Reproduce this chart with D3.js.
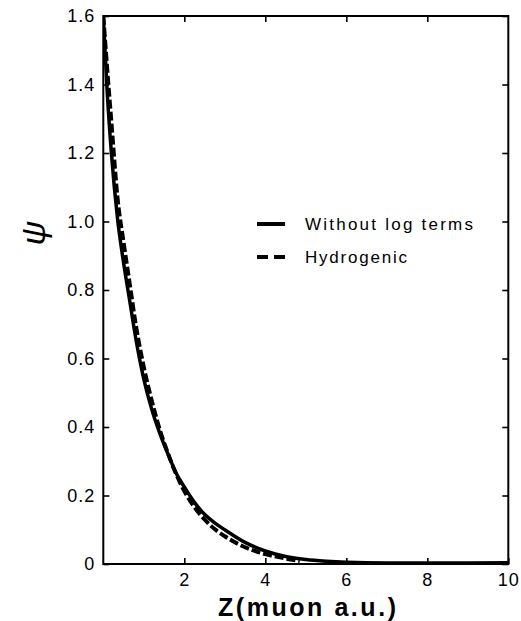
<!DOCTYPE html>
<html>
<head>
<meta charset="utf-8">
<script src="https://cdn.jsdelivr.net/npm/d3@7"></script>
<style>
  html, body { margin: 0; padding: 0; background: #fff; }
  svg { display: block; }
  text { font-family: "Liberation Sans", Arial, sans-serif; fill: #000; }
</style>
</head>
<body>
<svg id="chart" width="521" height="621"></svg>
<script>
// ---- data ----
const zSolid = [0, 0.1, 0.2, 0.35, 0.5, 0.65, 0.8, 1.0, 1.2, 1.4, 1.6, 1.8, 2.0, 2.25, 2.5, 2.75, 3.0, 3.5, 4.0, 4.5, 5.0, 5.5, 6, 7, 8, 9, 10];
const psiSolid = [1.60, 1.37, 1.20, 1.01, 0.88, 0.77, 0.66, 0.54, 0.45, 0.38, 0.32, 0.265, 0.225, 0.18, 0.145, 0.12, 0.10, 0.063, 0.038, 0.022, 0.013, 0.008, 0.005, 0.003, 0.003, 0.003, 0.004];
const zHydro = [0, 0.1, 0.2, 0.35, 0.5, 0.65, 0.8, 1.0, 1.2, 1.4, 1.6, 1.8, 2.0, 2.25, 2.5, 2.75, 3.0, 3.5, 4.0, 4.5, 4.85];
const psiHydro = [1.60, 1.44, 1.29, 1.07, 0.94, 0.82, 0.70, 0.575, 0.475, 0.39, 0.322, 0.262, 0.213, 0.166, 0.13, 0.102, 0.081, 0.049, 0.029, 0.016, 0.009];
const xTicks = [2, 4, 6, 8, 10];
const yTicks = [0, 0.2, 0.4, 0.6, 0.8, 1.0, 1.2, 1.4, 1.6];
const legendLabels = ["Without log terms", "Hydrogenic"];
const xTitle = "Z(muon a.u.)";
const yTitle = "ψ";

// ---- layout ----
const L = 103.3, R = 508.3, T = 16, B = 564;
const svg = d3.select("#chart");
const x = d3.scaleLinear().domain([0, 10]).range([L, R]);
const y = d3.scaleLinear().domain([0, 1.6]).range([B, T]);

svg.append("defs").append("clipPath").attr("id", "clip")
  .append("rect").attr("x", L).attr("y", T - 1).attr("width", R - L).attr("height", B - T + 1);

// axes (inward ticks)
const fmtY = d => d === 0 ? "0" : d.toFixed(1);
const gl = svg.append("g").attr("transform", `translate(${L},0)`)
  .call(d3.axisLeft(y).tickValues(yTicks).tickSize(-6).tickPadding(8).tickFormat(fmtY));
const gr = svg.append("g").attr("transform", `translate(${R},0)`)
  .call(d3.axisRight(y).tickValues(yTicks).tickSize(-6).tickFormat(""));
const gb = svg.append("g").attr("transform", `translate(0,${B})`)
  .call(d3.axisBottom(x).tickValues(xTicks).tickSize(-6).tickPadding(9).tickFormat(d3.format("d")));
const gt = svg.append("g").attr("transform", `translate(0,${T})`)
  .call(d3.axisTop(x).tickValues(xTicks.filter(d => d < 10)).tickSize(-6).tickFormat(""));

[gl, gr, gb, gt].forEach(g => {
  g.select(".domain").remove();
  g.selectAll(".tick line").attr("stroke", "#000").attr("stroke-width", 1.6);
  g.selectAll(".tick text").attr("font-size", 18).attr("fill", "#000")
    .attr("font-family", "'Liberation Sans', Arial, sans-serif").style("letter-spacing", "1px");
});

// frame
svg.append("rect").attr("x", L).attr("y", T).attr("width", R - L).attr("height", B - T)
  .attr("fill", "none").attr("stroke", "#000").attr("stroke-width", 2);

// curves
const line = d3.line().x(d => x(d[0])).y(d => y(d[1])).curve(d3.curveMonotoneX);
const solidData = zSolid.map((z, i) => [z, psiSolid[i]]);
const hydroData = zHydro.map((z, i) => [z, psiHydro[i]]);

const plot = svg.append("g").attr("clip-path", "url(#clip)");
plot.append("path").datum(hydroData).attr("d", line)
  .attr("fill", "none").attr("stroke", "#000").attr("stroke-width", 4)
  .attr("stroke-dasharray", "9,3");
plot.append("path").datum(solidData).attr("d", line)
  .attr("fill", "none").attr("stroke", "#000").attr("stroke-width", 3.5);

// legend
const lg = svg.append("g");
lg.append("line").attr("x1", 257).attr("x2", 285).attr("y1", 224).attr("y2", 224)
  .attr("stroke", "#000").attr("stroke-width", 4);
lg.append("line").attr("x1", 257).attr("x2", 285).attr("y1", 257).attr("y2", 257)
  .attr("stroke", "#000").attr("stroke-width", 4).attr("stroke-dasharray", "11,6");
lg.append("text").attr("x", 305).attr("y", 230).attr("font-size", 17)
  .attr("textLength", 168).attr("lengthAdjust", "spacing").text(legendLabels[0]);
lg.append("text").attr("x", 305).attr("y", 263).attr("font-size", 17)
  .attr("textLength", 102).attr("lengthAdjust", "spacing").text(legendLabels[1]);

// axis titles
svg.append("text").attr("x", 307).attr("y", 616).attr("text-anchor", "middle")
  .attr("font-size", 25).attr("font-weight", "bold")
  .attr("textLength", 178).attr("lengthAdjust", "spacing").text(xTitle);
svg.append("text").attr("transform", "translate(45,233) rotate(-90)")
  .attr("text-anchor", "middle")
  .attr("font-family", "'DejaVu Serif', 'Liberation Serif', serif")
  .attr("font-style", "italic").attr("font-size", 34).text(yTitle);
</script>
</body>
</html>
